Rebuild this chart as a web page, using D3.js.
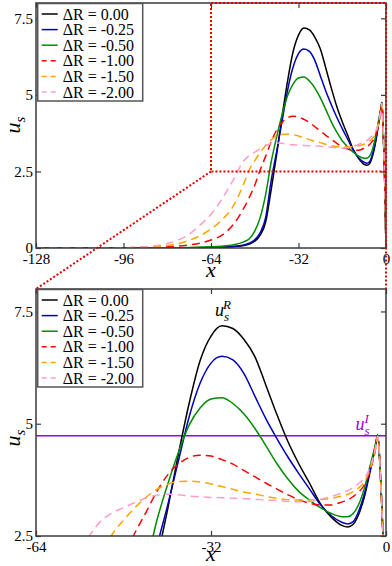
<!DOCTYPE html>
<html>
<head>
<meta charset="utf-8">
<script src="https://cdn.jsdelivr.net/npm/d3@7"></script>
<style>
  body { margin: 0; background: #fff; }
  svg { display: block; }
</style>
</head>
<body>
<div id="chart"></div>
<script>
// sample positions along x (shared by every series)
const xs = [-128, -96, -88, -80, -72, -68, -64, -60, -56, -52, -50, -48, -46, -44, -42, -40, -38, -36, -34, -32,
  -30, -28, -26, -24, -22, -20, -18, -16, -14, -12, -10, -8, -7, -6, -5, -4, -3, -2, -1.5, -1, -0.5, 0];

const dR000 = [0, 0, 0, 0, 0, 0.01, 0.01, 0.02, 0.04, 0.08, 0.13, 0.22, 0.42, 0.85, 1.9, 3.05, 4.3, 5.45, 6.4, 6.95,
  7.18, 7.12, 6.88, 6.5, 5.87, 5.22, 4.62, 4.12, 3.68, 3.22, 2.92, 2.73, 2.7, 2.76, 2.98, 3.35, 3.88, 4.45, 4.75, 3.8, 2.3, 0];
const dR025 = [0, 0, 0, 0, 0.01, 0.01, 0.02, 0.03, 0.05, 0.1, 0.16, 0.27, 0.5, 1.0, 2.2, 3.15, 4.15, 5.15, 5.9, 6.35,
  6.5, 6.42, 6.12, 5.62, 5.12, 4.68, 4.27, 3.9, 3.55, 3.2, 2.95, 2.8, 2.77, 2.82, 3.05, 3.42, 3.92, 4.47, 4.75, 3.8, 2.3, 0];
const dR050 = [0, 0, 0.01, 0.01, 0.02, 0.03, 0.04, 0.06, 0.1, 0.2, 0.3, 0.55, 1.0, 1.75, 2.8, 3.62, 4.35, 4.97, 5.35, 5.55,
  5.58, 5.45, 5.22, 4.9, 4.52, 4.12, 3.78, 3.5, 3.3, 3.13, 3.0, 2.93, 2.93, 3.0, 3.2, 3.55, 4.02, 4.5, 4.75, 3.8, 2.3, 0];
const dR100 = [0, 0.01, 0.02, 0.04, 0.1, 0.16, 0.26, 0.42, 0.75, 1.3, 1.65, 2.05, 2.55, 3.0, 3.47, 3.85, 4.1, 4.25, 4.3, 4.28,
  4.2, 4.1, 3.96, 3.82, 3.68, 3.55, 3.42, 3.31, 3.23, 3.19, 3.19, 3.26, 3.3, 3.38, 3.48, 3.63, 3.93, 4.38, 4.72, 3.8, 2.3, 0];
const dR150 = [0, 0.01, 0.03, 0.08, 0.25, 0.4, 0.62, 0.92, 1.35, 2.1, 2.55, 2.85, 3.12, 3.35, 3.53, 3.65, 3.71, 3.72, 3.7, 3.66,
  3.6, 3.54, 3.48, 3.44, 3.38, 3.34, 3.31, 3.3, 3.3, 3.31, 3.34, 3.39, 3.43, 3.49, 3.57, 3.7, 3.96, 4.4, 4.72, 3.8, 2.3, 0];
const dR200 = [0, 0.01, 0.04, 0.15, 0.45, 0.75, 1.1, 1.6, 2.2, 2.85, 3.02, 3.13, 3.24, 3.34, 3.41, 3.43, 3.42, 3.39, 3.37, 3.36,
  3.35, 3.34, 3.33, 3.32, 3.3, 3.29, 3.27, 3.26, 3.27, 3.32, 3.38, 3.46, 3.51, 3.58, 3.67, 3.78, 4.0, 4.42, 4.72, 3.8, 2.3, 0];

const labels = ["\u0394R = 0.00", "\u0394R = -0.25", "\u0394R = -0.50", "\u0394R = -1.00", "\u0394R = -1.50", "\u0394R = -2.00"];
const colors = ["#000000", "#0000b4", "#008c00", "#ff0000", "#ffa500", "#ff9ecb"];
const dashes = [null, null, null, "8,5", "8,5", "8,5"];
const allY = [dR000, dR025, dR050, dR100, dR150, dR200];

const usI = 4.73;   // horizontal line in the zoom panel

const topTicksX = [-128, -96, -64, -32, 0];
const topTicksY = [0, 2.5, 5, 7.5];
const botTicksX = [-64, -32, 0];
const botTicksY = [2.5, 5, 7.5];

const FONT = "'Liberation Serif', 'DejaVu Serif', serif";

const W = 392, H = 566;
const svg = d3.select("#chart").append("svg").attr("width", W).attr("height", H);

const series = allY.map((ys, i) => ({
  label: labels[i], color: colors[i], dash: dashes[i],
  pts: xs.map((x, j) => [x, ys[j]])
}));

function panel(opt) {
  const x = d3.scaleLinear().domain(opt.xd).range([opt.left, opt.right]);
  const y = d3.scaleLinear().domain(opt.yd).range([opt.bottom, opt.top]);
  const g = svg.append("g");

  const clipId = "clip" + opt.id;
  svg.append("clipPath").attr("id", clipId).append("rect")
    .attr("x", opt.left).attr("y", opt.top)
    .attr("width", opt.right - opt.left).attr("height", opt.bottom - opt.top);

  const line = d3.line().x(d => x(d[0])).y(d => y(d[1])).curve(d3.curveMonotoneX);

  const lines = g.append("g").attr("clip-path", "url(#" + clipId + ")");
  if (opt.hline != null) {
    lines.append("line")
      .attr("x1", opt.left).attr("x2", opt.right)
      .attr("y1", y(opt.hline)).attr("y2", y(opt.hline))
      .attr("stroke", "#9a00e0").attr("stroke-width", 1.5);
  }
  lines.selectAll("path.s").data(series).enter().append("path")
    .attr("class", "s")
    .attr("d", d => line(d.pts))
    .attr("fill", "none")
    .attr("stroke", d => d.color)
    .attr("stroke-width", 1.5)
    .attr("stroke-dasharray", d => d.dash);

  // axes, ticks pointing inward
  const ax = "#3a3a3a";
  const fmt = d => String(d);
  g.append("g").attr("transform", "translate(0," + opt.bottom + ")")
    .call(d3.axisBottom(x).tickValues(opt.tx).tickSizeInner(-5).tickSizeOuter(0).tickPadding(5).tickFormat(fmt));
  g.append("g").attr("transform", "translate(0," + opt.top + ")")
    .call(d3.axisTop(x).tickValues(opt.tx).tickSizeInner(-5).tickSizeOuter(0).tickFormat(""));
  g.append("g").attr("transform", "translate(" + opt.left + ",0)")
    .call(d3.axisLeft(y).tickValues(opt.ty).tickSizeInner(-5).tickSizeOuter(0).tickPadding(3).tickFormat(fmt));
  g.append("g").attr("transform", "translate(" + opt.right + ",0)")
    .call(d3.axisRight(y).tickValues(opt.ty).tickSizeInner(-5).tickSizeOuter(0).tickFormat(""));
  g.selectAll(".domain").remove();
  g.selectAll(".tick line").attr("stroke", ax).attr("stroke-width", 1.2);
  g.selectAll(".tick text").attr("fill", "#000").attr("font-size", 15);

  g.append("rect")
    .attr("x", opt.left).attr("y", opt.top)
    .attr("width", opt.right - opt.left).attr("height", opt.bottom - opt.top)
    .attr("fill", "none").attr("stroke", ax).attr("stroke-width", 1.5);

  // axis titles
  const yl = g.append("text")
    .attr("transform", "translate(" + 20 + "," + opt.ylabY + ") rotate(-90)")
    .attr("text-anchor", "middle")
    .attr("font-size", 22).attr("font-style", "italic");
  yl.append("tspan").text("u");
  yl.append("tspan").attr("dy", 5).attr("font-size", 15).text("s");

  g.append("text")
    .attr("x", (opt.left + opt.right) / 2).attr("y", opt.bottom + opt.xlabDy)
    .attr("text-anchor", "middle")
    .attr("font-size", 22).attr("font-style", "italic")
    .text("x");

  // legend
  const lg = g.append("g").attr("transform", "translate(" + (opt.left + 1.7) + "," + (opt.top + 0.5) + ")");
  lg.append("rect").attr("width", 105).attr("height", 97.5)
    .attr("fill", "#fff").attr("stroke", "#555").attr("stroke-width", 1.5);
  series.forEach((s, i) => {
    const cy = 10.5 + i * 15.6;
    lg.append("line").attr("x1", 4).attr("x2", 20).attr("y1", cy).attr("y2", cy)
      .attr("stroke", s.color).attr("stroke-width", 1.5)
      .attr("stroke-dasharray", s.dash ? "5,4" : null);
    lg.append("text").attr("x", 25).attr("y", cy + 5.5)
      .attr("font-size", 16).text(s.label);
  });

  return { x, y, g };
}

const topP = panel({ id: "a", xd: [-128, 0], yd: [0, 8], left: 36, right: 386, top: 3, bottom: 248,
  tx: topTicksX, ty: topTicksY, ylabY: 125, xlabDy: 29 });
const botP = panel({ id: "b", xd: [-64, 0], yd: [2.5, 8], left: 36, right: 386, top: 289, bottom: 536,
  tx: botTicksX, ty: botTicksY, ylabY: 438, xlabDy: 25, hline: usI });

// annotations in the zoom panel
const lr = svg.append("text").attr("x", botP.x(-29.8)).attr("y", 316)
  .attr("text-anchor", "middle").attr("font-size", 18).attr("font-style", "italic");
lr.append("tspan").text("u");
lr.append("tspan").attr("dy", 5).attr("font-size", 13).text("s");
lr.append("tspan").attr("dx", -6).attr("dy", -12).attr("font-size", 13).text("R");

const li = svg.append("text").attr("x", botP.x(-4.3)).attr("y", 430)
  .attr("text-anchor", "middle").attr("fill", "#9a00e0").attr("font-size", 18).attr("font-style", "italic");
li.append("tspan").text("u");
li.append("tspan").attr("dy", 5).attr("font-size", 13).text("s");
li.append("tspan").attr("dx", -5).attr("dy", -12).attr("font-size", 13).text("I");

// red dotted zoom box and connectors
const zx0 = topP.x(-64), zx1 = topP.x(0), zy0 = topP.y(8), zy1 = topP.y(2.5);
const dot = { stroke: "#e00000", "stroke-width": 2, "stroke-dasharray": "2,2", fill: "none" };
function dotted(sel) { Object.keys(dot).forEach(k => sel.attr(k, dot[k])); return sel; }
dotted(svg.append("rect").attr("x", zx0).attr("y", zy0).attr("width", zx1 - zx0).attr("height", zy1 - zy0));
dotted(svg.append("line").attr("x1", zx0).attr("y1", zy1).attr("x2", 36).attr("y2", 289));
dotted(svg.append("line").attr("x1", zx1).attr("y1", zy1).attr("x2", 386).attr("y2", 289));

svg.selectAll("g[font-family]").attr("font-family", null);
svg.selectAll("text").style("font-family", FONT);
</script>
</body>
</html>
